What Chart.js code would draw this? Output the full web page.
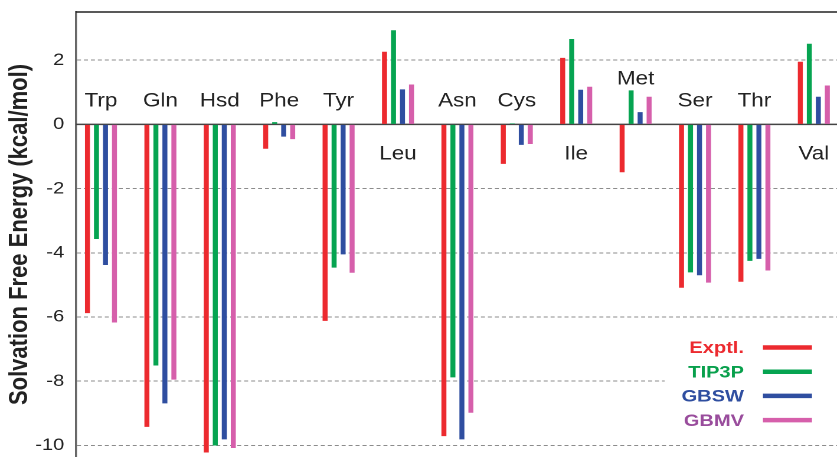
<!DOCTYPE html>
<html>
<head>
<meta charset="utf-8">
<script src="https://cdn.jsdelivr.net/npm/chart.js@4/dist/chart.umd.min.js"></script>
<style>
  html, body { margin: 0; padding: 0; background: #fff; overflow: hidden; }
  #wrap { width: 837px; height: 457px; overflow: hidden; position: relative; }
  /* the figure's lettering is set wide, so the canvas is drawn narrow and stretched */
  #c { position: absolute; left: 0; top: 0; transform-origin: 0 0; transform: scaleX(1.1805); }
</style>
</head>
<body>
<div id="wrap"><canvas id="c" width="709" height="457"></canvas></div>
<script>
// Side-chain analogue solvation free energies (kcal/mol)
const categories = ['Trp', 'Gln', 'Hsd', 'Phe', 'Tyr', 'Leu', 'Asn', 'Cys', 'Ile', 'Met', 'Ser', 'Thr', 'Val'];
const seriesNames = ['Exptl.', 'TIP3P', 'GBSW', 'GBMV'];
const exptl = [-5.88, -9.42, -10.22, -0.76, -6.12, 2.26, -9.71, -1.23, 2.07, -1.49, -5.09, -4.90, 1.95];
const tip3p = [-3.57, -7.51, -10.00, 0.07, -4.46, 2.93, -7.88, 0.03, 2.66, 1.06, -4.61, -4.25, 2.51];
const gbsw  = [-4.38, -8.69, -9.81, -0.38, -4.05, 1.09, -9.81, -0.64, 1.08, 0.38, -4.70, -4.19, 0.86];
const gbmv  = [-6.17, -7.95, -10.08, -0.46, -4.62, 1.24, -8.98, -0.61, 1.17, 0.86, -4.93, -4.55, 1.21];
const yTickValues = [-10, -8, -6, -4, -2, 0, 2];

const barColors = ['#ec2a2f', '#06a451', '#2f4ea0', '#d65fab'];
const legendTextColors = ['#ec2a2f', '#08a04c', '#2f4ea0', '#994c9c'];
const FONT = '"Liberation Sans", Arial, Helvetica, sans-serif';

const allSeries = [exptl, tip3p, gbsw, gbmv];

const datasets = allSeries.map((vals, s) => ({
  label: seriesNames[s],
  data: vals.map((v, i) => ({ x: i, y: v })),
  backgroundColor: barColors[s],
  borderWidth: 0,
  categoryPercentage: 0.606,
  barPercentage: 0.556
}));

// zero line, top frame, residue names and the key
const decorations = {
  id: 'decorations',
  beforeDatasetsDraw(chart) {
    const { ctx, chartArea: a, scales: { y } } = chart;
    const y0 = y.getPixelForValue(0);
    ctx.save();
    ctx.strokeStyle = '#444';
    ctx.lineWidth = 1.6;
    ctx.beginPath(); ctx.moveTo(a.left, y0); ctx.lineTo(a.right, y0); ctx.stroke();
    ctx.strokeStyle = '#222';
    ctx.lineWidth = 1.6;
    ctx.beginPath(); ctx.moveTo(a.left, a.top); ctx.lineTo(a.right, a.top); ctx.stroke();
    ctx.restore();
  },
  afterDatasetsDraw(chart) {
    const { ctx, chartArea: a, scales: { x, y } } = chart;
    const y0 = y.getPixelForValue(0);
    ctx.save();

    // residue names: below the axis for all-positive groups, above otherwise
    ctx.font = '19px ' + FONT;
    ctx.fillStyle = '#222';
    ctx.textAlign = 'center';
    ctx.textBaseline = 'alphabetic';
    categories.forEach((name, i) => {
      const vals = allSeries.map(s => s[i]);
      const cx = x.getPixelForValue(i);
      let by;
      if (vals.every(v => v >= 0)) {
        by = y0 + 35;
      } else {
        const top = y.getPixelForValue(Math.max(0, ...vals));
        by = Math.min(y0 - 18, top - 6);
      }
      ctx.fillText(name, cx, by);
    });

    // key, on a white patch
    ctx.fillStyle = '#fff';
    ctx.fillRect(a.right - 146, a.top + 318, 146, 104);
    ctx.font = 'bold 17px ' + FONT;
    ctx.textAlign = 'right';
    ctx.textBaseline = 'middle';
    seriesNames.forEach((name, s) => {
      const ry = a.top + 335.5 + s * 24.2;
      ctx.fillStyle = legendTextColors[s];
      ctx.fillText(name, a.right - 78.8, ry + 1);
      ctx.strokeStyle = barColors[s];
      ctx.lineWidth = 4.5;
      ctx.beginPath();
      ctx.moveTo(a.right - 62.7, ry);
      ctx.lineTo(a.right - 21.2, ry);
      ctx.stroke();
    });
    ctx.restore();
  }
};

new Chart(document.getElementById('c'), {
  type: 'bar',
  data: { datasets },
  plugins: [decorations],
  options: {
    responsive: false,
    devicePixelRatio: 2,
    animation: false,
    layout: { padding: { top: 12, right: 0, bottom: 0, left: 0 } },
    plugins: {
      legend: { display: false },
      tooltip: { enabled: false },
      title: { display: false }
    },
    scales: {
      x: {
        type: 'linear',
        offset: false,
        min: -0.42,
        max: 12.39,
        display: false,
        grid: { display: false }
      },
      y: {
        min: -10.36,
        max: 3.5,
        afterBuildTicks(scale) { scale.ticks = yTickValues.map(v => ({ value: v })); },
        afterFit(scale) {
          scale.width = 64.4;
          scale.paddingTop = 0;
          scale.paddingBottom = 0;
        },
        ticks: {
          padding: 10,
          color: '#222',
          font: { family: FONT, size: 17 },
          callback: v => String(v)
        },
        grid: {
          drawTicks: false,
          lineWidth: 1,
          color: c => (c.tick && c.tick.value === 0) ? 'rgba(0,0,0,0)' : '#8c8c8c'
        },
        border: { display: true, color: '#666', width: 1.7, dash: [3.4, 2.5] },
        title: {
          display: true,
          text: 'Solvation Free Energy (kcal/mol)',
          color: '#222',
          font: { family: FONT, size: 22, weight: 'bold' },
          padding: { top: 3.5, bottom: 0 }
        }
      }
    }
  }
});
</script>
</body>
</html>
